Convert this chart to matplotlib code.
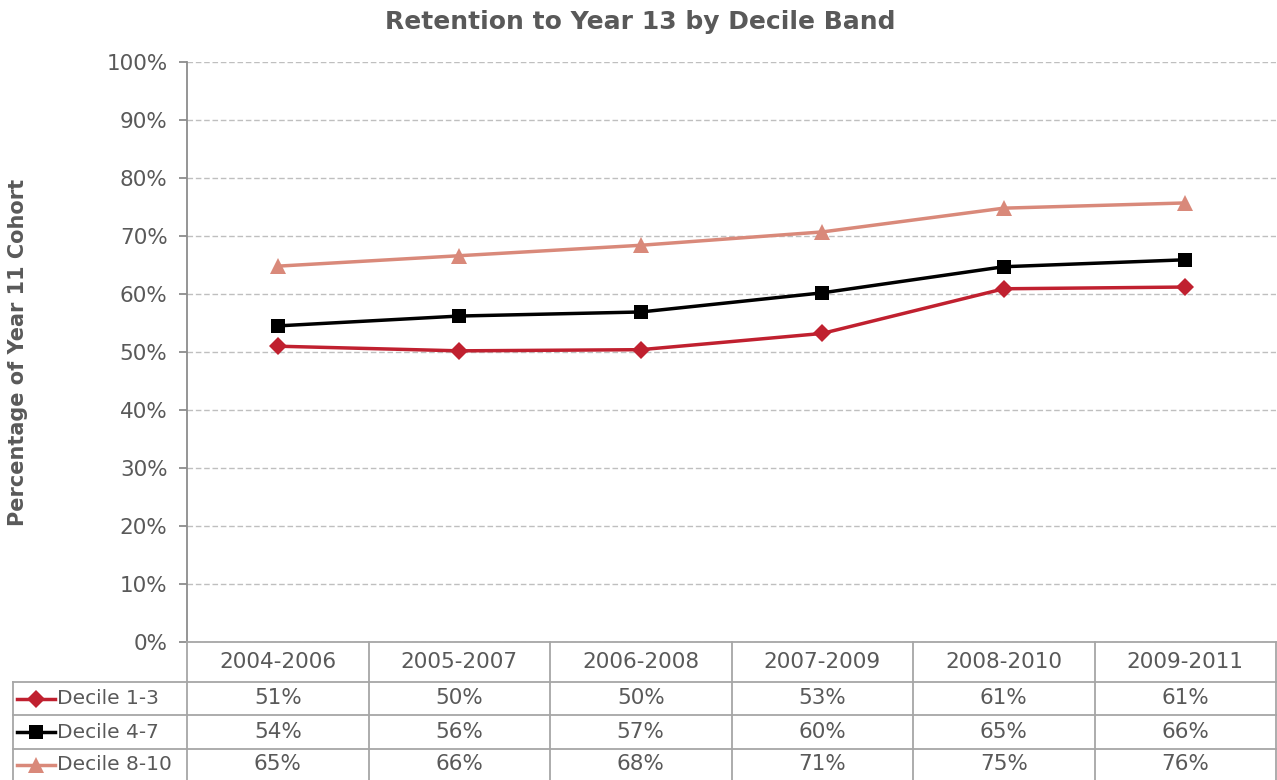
import matplotlib
matplotlib.use("Agg")
import matplotlib.pyplot as plt
from matplotlib.lines import Line2D
from matplotlib.transforms import blended_transform_factory

periods = ["2004-2006", "2005-2007", "2006-2008", "2007-2009", "2008-2010", "2009-2011"]
decile_1_3 = [51.0, 50.2, 50.4, 53.2, 60.9, 61.2]
decile_4_7 = [54.5, 56.2, 56.9, 60.2, 64.7, 65.9]
decile_8_10 = [64.8, 66.6, 68.4, 70.7, 74.8, 75.7]
table_1_3 = ["51%", "50%", "50%", "53%", "61%", "61%"]
table_4_7 = ["54%", "56%", "57%", "60%", "65%", "66%"]
table_8_10 = ["65%", "66%", "68%", "71%", "75%", "76%"]
series_names = ["Decile 1-3", "Decile 4-7", "Decile 8-10"]

W, H = 1277, 780
TEXT = "#595959"
GRID = "#BFBFBF"
BORDER = "#A6A6A6"
FS = 15.5

series = [
    (decile_1_3, table_1_3, "#C0202F", "D", 9.5),
    (decile_4_7, table_4_7, "#000000", "s", 10.5),
    (decile_8_10, table_8_10, "#D9897A", "^", 11.5),
]

fig = plt.figure(figsize=(W / 100, H / 100), dpi=100)
ax = fig.add_axes([187 / W, (H - 642) / H, (1276 - 187) / W, (642 - 62) / H])

x = list(range(len(periods)))
for values, _, color, marker, ms in series:
    ax.plot(x, values, color=color, linewidth=2.5, marker=marker, markersize=ms,
            markeredgewidth=0, zorder=3)

ax.set_xlim(-0.5, len(periods) - 0.5)
ax.set_ylim(0, 100)
ax.set_yticks(range(0, 101, 10))
ax.set_yticklabels([f"{v}%" for v in range(0, 101, 10)], fontsize=FS, color=TEXT)
ax.set_xticks([])
ax.yaxis.grid(True, linestyle=(0, (4, 2)), color=GRID, linewidth=1)
ax.set_axisbelow(True)
for side in ("top", "right", "bottom"):
    ax.spines[side].set_visible(False)
ax.spines["left"].set_color("#8C8C8C")
ax.spines["left"].set_linewidth(1.3)
ax.tick_params(axis="y", length=6, color="#8C8C8C", width=1.3, pad=8)

fig.text(640 / W, 1 - 22 / H, "Retention to Year 13 by Decile Band", ha="center", va="center",
         fontsize=18, fontweight="bold", color=TEXT)
fig.text(18 / W, 1 - 352 / H, "Percentage of Year 11 Cohort", ha="center", va="center",
         rotation=90, fontsize=15, fontweight="bold", color=TEXT)

# data table below the plot
def fy(py):
    return 1 - py / H

def fx(px):
    return px / W

tr = blended_transform_factory(ax.transData, fig.transFigure)
row_edges = [642, 682, 715, 749, 780]
col_edges = [i - 0.5 for i in range(len(periods) + 1)]

for c in col_edges:
    fig.add_artist(Line2D([c, c], [fy(642), fy(780)], transform=tr, color=BORDER, linewidth=1.3))
for r in row_edges[:-1]:
    left = 187 if r == 642 else 13
    fig.add_artist(Line2D([fx(left), fx(W)], [fy(r), fy(r)], transform=fig.transFigure,
                          color=BORDER, linewidth=1.3))
fig.add_artist(Line2D([fx(13), fx(13)], [fy(682), fy(780)], transform=fig.transFigure,
                      color=BORDER, linewidth=1.3))

for i, p in enumerate(periods):
    fig.text(i, fy((642 + 682) / 2), p, transform=tr, ha="center", va="center",
             fontsize=FS, color=TEXT)

for k, (values, labels, color, marker, ms) in enumerate(series):
    yc = fy((row_edges[k + 1] + row_edges[k + 2]) / 2)
    fig.add_artist(Line2D([fx(17), fx(55)], [yc, yc], transform=fig.transFigure, color=color,
                          linewidth=2.5))
    fig.add_artist(Line2D([fx(36)], [yc], transform=fig.transFigure, color=color, marker=marker,
                          markersize=ms, markeredgewidth=0))
    fig.text(fx(57), yc, series_names[k], ha="left", va="center", fontsize=14.5, color=TEXT)
    for i, lab in enumerate(labels):
        fig.text(i, yc, lab, transform=tr, ha="center", va="center", fontsize=FS, color=TEXT)

fig.savefig("out.png", dpi=100)
